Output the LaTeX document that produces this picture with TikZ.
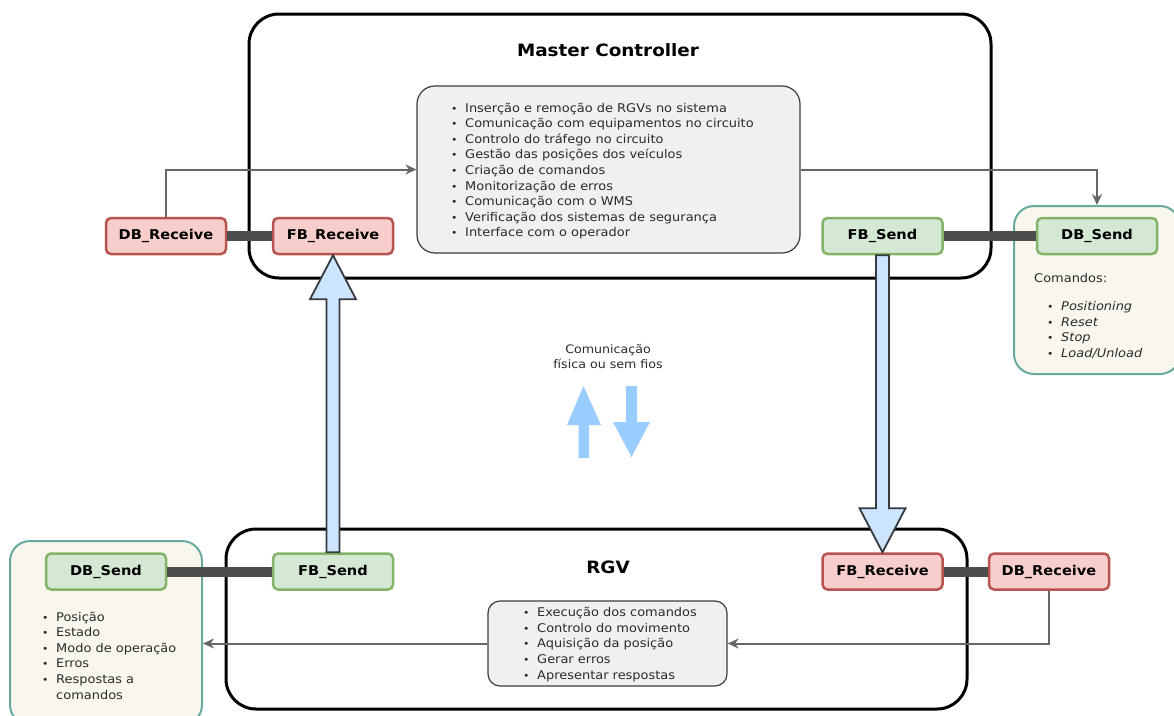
\documentclass[tikz,border=0pt]{standalone}
\usepackage{fontspec}
\setmainfont{DejaVu Sans}[FakeStretch=1.08]
\usetikzlibrary{calc,arrows.meta}

\definecolor{redfill}{HTML}{F8CECC}
\definecolor{redline}{HTML}{B85450}
\definecolor{greenfill}{HTML}{D5E8D4}
\definecolor{greenline}{HTML}{82B366}
\definecolor{listfill}{HTML}{F0F0F0}
\definecolor{listline}{HTML}{3C3C3C}
\definecolor{panelfill}{HTML}{F9F7ED}
\definecolor{panelline}{HTML}{67AB9F}
\definecolor{busgray}{HTML}{4D4D4D}
\definecolor{flowgray}{HTML}{666666}
\definecolor{pipefill}{HTML}{CCE5FF}
\definecolor{pipeline}{HTML}{36393D}
\definecolor{wavefill}{HTML}{99CCFF}
\definecolor{txtgray}{HTML}{2A2A2A}

% list item with a small bullet
\newcommand\bul{{\fontsize{10}{10}\selectfont\upshape•}}
\newcommand\li[1]{\makebox[14pt][l]{\bul}#1}

\begin{document}
\begin{tikzpicture}[x=1pt,y=-1pt,
  group/.style={draw=black, line width=3pt, rounded corners=30pt},
  title/.style={font=\fontsize{17}{20}\selectfont\bfseries, text=black},
  dbbox/.style={line width=2.5pt, rounded corners=5pt, minimum width=120pt,
    minimum height=36pt, inner sep=0pt, font=\fontsize{13.5}{16}\selectfont\bfseries},
  redbox/.style={dbbox, draw=redline, fill=redfill},
  greenbox/.style={dbbox, draw=greenline, fill=greenfill},
  listbox/.style={draw=listline, fill=listfill, line width=1.2pt, rounded corners=18pt},
  panel/.style={draw=panelline, fill=panelfill, line width=2pt, rounded corners=20pt},
  listtext/.style={align=left, inner sep=0pt, text=txtgray,
    font=\fontsize{12}{15.6}\selectfont},
  bus/.style={draw=busgray, line width=10pt},
  flow/.style={draw=flowgray, line width=2pt, -{Stealth[length=11pt,width=10pt]}},
  pipe/.style={draw=pipeline, fill=pipefill, line width=1.8pt, line join=miter},
  wave/.style={fill=wavefill, draw=none}
]
\useasboundingbox (0,0) rectangle (1174,715);

% ---------- Master Controller ----------
\node[group, minimum width=742pt, minimum height=264pt] (mc) at (620,146) {};
\node[title] (mctitle) at (608,50) {Master Controller};
\node[listbox, minimum width=383pt, minimum height=167pt] (mclist) at (608.5,169.5) {};
\node[listtext, anchor=west] (mctext) at (451,171) {%
  \li{Inserção e remoção de RGVs no sistema}\\
  \li{Comunicação com equipamentos no circuito}\\
  \li{Controlo do tráfego no circuito}\\
  \li{Gestão das posições dos veículos}\\
  \li{Criação de comandos}\\
  \li{Monitorização de erros}\\
  \li{Comunicação com o WMS}\\
  \li{Verificação dos sistemas de segurança}\\
  \li{Interface com o operador}};

% commands panel (top right)
\node[panel, minimum width=166pt, minimum height=168pt] (cmdpanel) at (1097,290) {};
\node[listtext, anchor=west] (cmdhead) at (1034,278) {Comandos:};
\node[listtext, anchor=west, font=\fontsize{12}{15.4}\selectfont\itshape] (cmdtext) at (1047,330) {%
  \li{Positioning}\\
  \li{Reset}\\
  \li{Stop}\\
  \li{Load/Unload}};

\node[redbox]   (dbr1) at (166,236)   {DB\_Receive};
\node[redbox]   (fbr1) at (333,236)   {FB\_Receive};
\node[greenbox] (fbs1) at (882.5,236) {FB\_Send};
\node[greenbox] (dbs1) at (1097,236)  {DB\_Send};

% ---------- RGV ----------
\node[group, minimum width=741pt, minimum height=180pt] (rgv) at (596.5,619) {};
\node[title] (rgvtitle) at (608,567) {RGV};
\node[listbox, rounded corners=12pt, minimum width=239pt, minimum height=85pt] (rgvlist) at (607.5,643.5) {};
\node[listtext, anchor=west] (rgvtext) at (523,644.5) {%
  \li{Execução dos comandos}\\
  \li{Controlo do movimento}\\
  \li{Aquisição da posição}\\
  \li{Gerar erros}\\
  \li{Apresentar respostas}};

% status panel (bottom left)
\node[panel, minimum width=192pt, minimum height=184pt] (statpanel) at (106,633) {};
\node[listtext, anchor=west] (stattext) at (42,655.5) {%
  \li{Posição}\\
  \li{Estado}\\
  \li{Modo de operação}\\
  \li{Erros}\\
  \li{Respostas a}\\
  \hspace*{14pt}comandos};

\node[greenbox] (dbs2) at (106,571.5)   {DB\_Send};
\node[greenbox] (fbs2) at (333,571.5)   {FB\_Send};
\node[redbox]   (fbr2) at (882.5,571.5) {FB\_Receive};
\node[redbox]   (dbr2) at (1049,571.5)  {DB\_Receive};

% ---------- data buses ----------
\draw[bus] (dbr1.east) -- (fbr1.west);
\draw[bus] (fbs1.east) -- (dbs1.west);
\draw[bus] (dbs2.east) -- (fbs2.west);
\draw[bus] (fbr2.east) -- (dbr2.west);

% ---------- data flow ----------
\draw[flow] (dbr1.north) |- (mclist.west);
\draw[flow] (mclist.east) -| (cmdpanel.north);
\draw[flow] (dbr2.south) |- (rgvlist.east);
\draw[flow] (rgvlist.west) -- (rgvlist.west -| statpanel.east);

% ---------- communication pipes ----------
\draw[pipe] let \p1=(fbs2.north), \p2=(fbr1.south) in
  (\x1-6.5pt,\y1) -- (\x1-6.5pt,\y2-44pt) -- (\x1-23pt,\y2-44pt) -- (\x2,\y2)
  -- (\x1+23pt,\y2-44pt) -- (\x1+6.5pt,\y2-44pt) -- (\x1+6.5pt,\y1) -- cycle;
\draw[pipe] let \p1=(fbs1.south), \p2=(fbr2.north) in
  (\x1-6.5pt,\y1) -- (\x1-6.5pt,\y2+44pt) -- (\x1-23pt,\y2+44pt) -- (\x2,\y2)
  -- (\x1+23pt,\y2+44pt) -- (\x1+6.5pt,\y2+44pt) -- (\x1+6.5pt,\y1) -- cycle;

% ---------- wireless / wired legend ----------
\node[listtext, align=center, font=\fontsize{11.7}{15}\selectfont] (commlabel) at (608,357)
  {Comunicação\\física ou sem fios};
\fill[wave] (578.5,458) -- (578.5,425) -- (567,425) -- (583.5,386) -- (601,425)
  -- (589,425) -- (589,458) -- cycle;
\fill[wave] (626,386) -- (626,422) -- (613,422) -- (631.5,457) -- (650,422)
  -- (637,422) -- (637,386) -- cycle;
\end{tikzpicture}
\end{document}
